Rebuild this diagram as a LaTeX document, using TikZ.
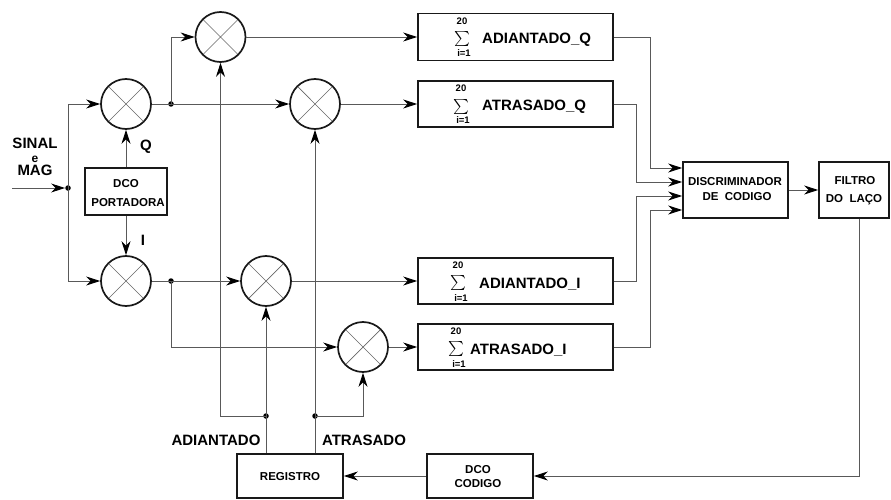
\documentclass[tikz,border=0pt]{standalone}
\usepackage{fontspec}
\setmainfont{Liberation Sans}
\usetikzlibrary{arrows.meta}
\begin{document}
\begin{tikzpicture}[x=1pt,y=-1pt,
  wire/.style={line width=0.9pt, draw=black!65},
  conn/.style={wire, -{Stealth[length=14pt,width=9pt,inset=4.5pt,black]}},
  blk/.style={draw=black!90, line width=1.7pt, inner sep=0pt},
  mix/.style={circle, draw=black!90, line width=1.7pt, minimum size=50pt, inner sep=0pt,
    path picture={\draw[line width=0.7pt, black!60]
      ([shift={(45:26pt)}]path picture bounding box.center) -- ([shift={(225:26pt)}]path picture bounding box.center)
      ([shift={(135:26pt)}]path picture bounding box.center) -- ([shift={(315:26pt)}]path picture bounding box.center);}},
  big/.style={font=\fontsize{15}{15}\selectfont\bfseries, inner sep=0pt},
  small/.style={font=\fontsize{11.5}{11.5}\selectfont\bfseries, inner sep=0pt},
  lim/.style={font=\fontsize{9.5}{9.5}\selectfont\bfseries, inner sep=0pt},
  sig/.style={inner sep=0pt},
  dot/.style={circle, fill=black, minimum size=5.5pt, inner sep=0pt}
]
\useasboundingbox (0,0) rectangle (891,500);
\newcommand{\bigsum}{\scalebox{1.5}{$\sum$}}

% mixers
\node[mix] (mAQ)  at (220.5,37) {};
\node[mix] (mQ)   at (126,104) {};
\node[mix] (mAtQ) at (315,104) {};
\node[mix] (mI)   at (126,281) {};
\node[mix] (mAI)  at (266,281) {};
\node[mix] (mAtI) at (363,347) {};

% blocks
\node[blk, minimum width=195pt, minimum height=47pt] (bAQ)  at (515.5,37) {};
\node[blk, minimum width=195pt, minimum height=46pt] (bAtQ) at (515.5,104) {};
\node[blk, minimum width=195pt, minimum height=46pt] (bAI)  at (515.5,281) {};
\node[blk, minimum width=195pt, minimum height=46pt] (bAtI) at (515.5,347) {};
\node[blk, minimum width=105pt, minimum height=56pt] (disc) at (735.5,190) {};
\node[blk, minimum width=70pt, minimum height=56pt] (filt) at (854,190) {};
\node[blk, minimum width=82pt, minimum height=47pt] (dcop) at (126,191.5) {};
\node[blk, minimum width=106pt, minimum height=44pt] (reg)  at (290,476) {};
\node[blk, minimum width=106pt, minimum height=44pt] (dcoc) at (480,476) {};

% sums
\node[lim, anchor=base] (s1t) at (462,25) {20};
\node[sig] (s1s) at (462,39.5) {\bigsum};
\node[lim, anchor=base] (s1b) at (464,57) {i=1};
\node[big, anchor=base west] (t1) at (482,44) {ADIANTADO\_Q};

\node[lim, anchor=base] (s2t) at (461,92) {20};
\node[sig] (s2s) at (461,106.5) {\bigsum};
\node[lim, anchor=base] (s2b) at (463,124) {i=1};
\node[big, anchor=base west] (t2) at (482,111) {ATRASADO\_Q};

\node[lim, anchor=base] (s3t) at (458,268) {20};
\node[sig] (s3s) at (458,282.5) {\bigsum};
\node[lim, anchor=base] (s3b) at (461,301) {i=1};
\node[big, anchor=base west] (t3) at (479,288) {ADIANTADO\_I};

\node[lim, anchor=base] (s4t) at (456,334) {20};
\node[sig] (s4s) at (456,348.5) {\bigsum};
\node[lim, anchor=base] (s4b) at (459,367) {i=1};
\node[big, anchor=base west] (t4) at (470,354) {ATRASADO\_I};

% block texts
\node[small, anchor=base] (tp1) at (126,187) {DCO};
\node[small, anchor=base] (tp2) at (128,206) {PORTADORA};
\node[small, anchor=base] (td1) at (735,185) {DISCRIMINADOR};
\node[small, anchor=base] (td2) at (737,200) {DE\ \ CODIGO};
\node[small, anchor=base] (tf1) at (855,184) {FILTRO};
\node[small, anchor=base] (tf2) at (854,202) {DO\ \ LAÇO};
\node[small, anchor=base] (tr)  at (290,480) {REGISTRO};
\node[small, anchor=base] (tc1) at (478,473) {DCO};
\node[small, anchor=base] (tc2) at (478,487) {CODIGO};

% labels
\node[big, anchor=base] (ls) at (35,149) {SINAL};
\node[anchor=base, inner sep=0pt, font=\fontsize{12}{12}\selectfont\bfseries] (le) at (35,162) {e};
\node[big, anchor=base] (lm) at (35,175) {MAG};
\node[big, anchor=base] (lq) at (146,150) {Q};
\node[big, anchor=base] (li) at (143,245) {I};
\node[big, anchor=base] (la) at (216,445) {ADIANTADO};
\node[big, anchor=base] (lt) at (364,445) {ATRASADO};

% junctions
\coordinate (in) at (12,188);
\node[dot] (j0) at (68,188) {};
\node[dot] (jQ) at (171,104) {};
\node[dot] (jI) at (171,281) {};
\node[dot] (jA) at (266,416) {};
\node[dot] (jT) at (315,416) {};

% connections
\draw[conn] (in) -- (j0);
\draw[conn] (j0.center) |- (mQ.west);
\draw[conn] (j0.center) |- (mI.west);
\draw[conn] (dcop.north) -- (mQ.south);
\draw[conn] (dcop.south) -- (mI.north);

\draw[wire] (mQ.east) -- (jQ.center);
\draw[conn] (jQ.center) -- (mAtQ.west);
\draw[conn] (jQ.center) |- (mAQ.west);
\draw[wire] (mI.east) -- (jI.center);
\draw[conn] (jI.center) -- (mAI.west);
\draw[conn] (jI.center) |- (mAtI.west);

\draw[conn] (mAQ.east) -- (bAQ.west);
\draw[conn] (mAtQ.east) -- (bAtQ.west);
\draw[conn] (mAI.east) -- (bAI.west);
\draw[conn] (mAtI.east) -- (bAtI.west);

\draw[conn] (jA.center |- reg.north) -- (mAI.south);
\draw[conn] (jA.center) -| (mAQ.south);
\draw[conn] (jT.center |- reg.north) -- (mAtQ.south);
\draw[conn] (jT.center) -| (mAtI.south);

\coordinate (d1) at ([yshift=22pt]disc.west);
\coordinate (d2) at ([yshift=8pt]disc.west);
\coordinate (d3) at ([yshift=-6pt]disc.west);
\coordinate (d4) at ([yshift=-20pt]disc.west);
\draw[conn] (bAQ.east) -- ++(37,0) |- (d1);
\draw[conn] (bAtQ.east) -- ++(23,0) |- (d2);
\draw[conn] (bAI.east) -- ++(23,0) |- (d3);
\draw[conn] (bAtI.east) -- ++(37,0) |- (d4);

\draw[conn] (disc.east) -- (filt.west);
\draw[conn] ([xshift=5pt]filt.south) |- (dcoc.east);
\draw[conn] (dcoc.west) -- (reg.east);
\end{tikzpicture}
\end{document}
